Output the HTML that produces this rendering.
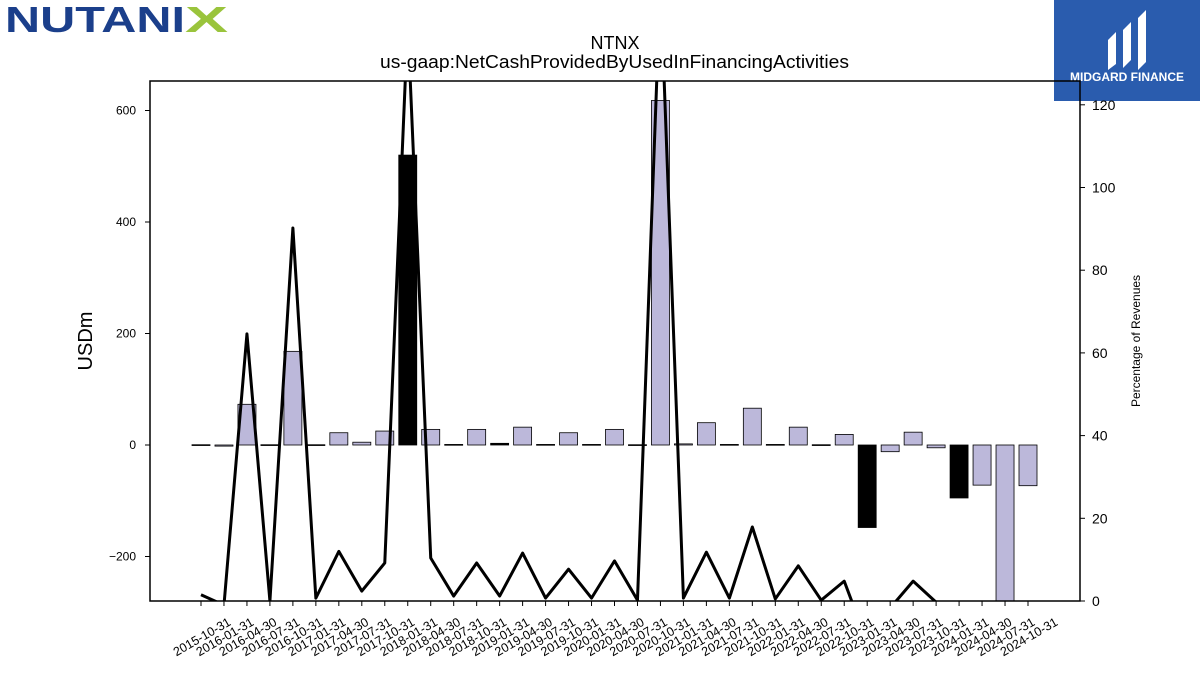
<!DOCTYPE html>
<html><head><meta charset="utf-8"><style>
body{margin:0;background:#fff;width:1200px;height:675px;overflow:hidden;font-family:"Liberation Sans",sans-serif}
</style></head><body>
<svg width="1200" height="675" xmlns="http://www.w3.org/2000/svg" font-family="Liberation Sans, DejaVu Sans, sans-serif">
<g>
<text x="5" y="32" font-size="36" font-weight="bold" fill="#1b3f8b" textLength="180" lengthAdjust="spacingAndGlyphs">NUTANI</text>
<text x="185" y="32" font-size="36" font-weight="bold" fill="#9ac43c" textLength="43" lengthAdjust="spacingAndGlyphs">X</text>
</g>
<g>
<rect x="1054" y="0" width="146" height="101" fill="#2a5cae"/>
<path d="M1108 70 L1108 40 L1116 32 L1116 64 Z M1123 68 L1123 30 L1131 22 L1131 60 Z M1138 70 L1138 18 L1146 10 L1146 62 Z" fill="#fff"/>
<text x="1127" y="81" font-size="12" font-weight="bold" fill="#fff" text-anchor="middle">MIDGARD FINANCE</text>
</g>
<text x="615" y="49" font-size="18" text-anchor="middle">NTNX</text>
<text x="380" y="68" font-size="18" textLength="469" lengthAdjust="spacingAndGlyphs">us-gaap:NetCashProvidedByUsedInFinancingActivities</text>
<defs><clipPath id="pc"><rect x="150" y="81" width="930" height="520"/></clipPath></defs>
<g id="bars" clip-path="url(#pc)"></g>
<g id="line" clip-path="url(#pc)"></g>
<rect x="150" y="81" width="930" height="520" fill="none" stroke="#000" stroke-width="1.5"/>
<g id="axes"></g>
<text transform="translate(92,341) rotate(-90)" font-size="20" text-anchor="middle">USDm</text>
<text transform="translate(1140,341) rotate(-90)" font-size="12" text-anchor="middle">Percentage of Revenues</text>
</svg>
<script>
const categories=["2015-10-31","2016-01-31","2016-04-30","2016-07-31","2016-10-31","2017-01-31","2017-04-30","2017-07-31","2017-10-31","2018-01-31","2018-04-30","2018-07-31","2018-10-31","2019-01-31","2019-04-30","2019-07-31","2019-10-31","2020-01-31","2020-04-30","2020-07-31","2020-10-31","2021-01-31","2021-04-30","2021-07-31","2021-10-31","2022-01-31","2022-04-30","2022-07-31","2022-10-31","2023-01-31","2023-04-30","2023-07-31","2023-10-31","2024-01-31","2024-04-30","2024-07-31","2024-10-31"];
const usdValues=[0.5,-2,73,0.5,168,0.5,22,5,25,520,28,1,28,3,32,1,22,1,28,0.5,618,2,40,1,66,1,32,0.5,19,-148,-12,23,-5,-95,-72,-300,-73];
const highlighted=[0,0,0,0,0,0,0,0,0,1,0,0,0,1,0,0,0,0,0,0,0,0,0,0,0,0,0,0,0,1,0,0,0,1,0,0,0];
const pctValues=[1.5,-1,64.6,0,90.2,0.7,12,2.4,9.2,140,10.4,1.2,9.2,1.2,11.6,0.7,7.7,0.7,9.7,0.2,150,0.7,11.8,0.7,17.9,0.5,8.5,0.2,4.8,-10,-1.7,4.8,-0.3,-10,-8,-30,-8];
const leftTicks=[-200,0,200,400,600];
const rightTicks=[0,20,40,60,80,100,120];
const NS="http://www.w3.org/2000/svg";
const x=i=>201+i*(1028-201)/(categories.length-1);
const yL=v=>445-v*(111.5/200);
const yR=v=>601-v*(82.7/20);
function mk(t,a,p){const e=document.createElementNS(NS,t);for(const k in a)e.setAttribute(k,a[k]);p.appendChild(e);return e;}
const bars=document.getElementById('bars'),line=document.getElementById('line'),axes=document.getElementById('axes');
usdValues.forEach((v,i)=>{
 const y0=yL(0),y1=yL(v);
 const r=mk('rect',{x:x(i)-9,y:Math.min(y0,y1),width:18,height:Math.max(Math.abs(y1-y0),0.8),fill:highlighted[i]?'#000':'#bcb8da',stroke:'#000','stroke-width':0.8},bars);
 
 
});
const pl=mk('polyline',{points:pctValues.map((v,i)=>x(i)+','+yR(v)).join(' '),fill:'none',stroke:'#000','stroke-width':3,'stroke-linejoin':'round'},line);


leftTicks.forEach(t=>{
 const y=yL(t);
 mk('line',{x1:145,x2:150,y1:y,y2:y,stroke:'#000'},axes);
 const tx=mk('text',{x:136,y:y+4,'font-size':12,'text-anchor':'end'},axes);
 tx.textContent=t<0?'\u2212'+(-t):t;
 
 
});
rightTicks.forEach(t=>{
 const y=yR(t);
 mk('line',{x1:1080,x2:1085,y1:y,y2:y,stroke:'#000'},axes);
 const tx=mk('text',{x:1092,y:y+5,'font-size':14},axes);
 tx.textContent=t;
 
 
});
categories.forEach((c,i)=>{
 const xx=x(i);
 mk('line',{x1:xx,x2:xx,y1:601,y2:606,stroke:'#000'},axes);
 const tx=mk('text',{transform:`translate(${xx+1},${637}) rotate(-30)`,y:4,'font-size':12.5,'text-anchor':'middle'},axes);
 tx.textContent=c;
 
 
});
</script>
</body></html>
